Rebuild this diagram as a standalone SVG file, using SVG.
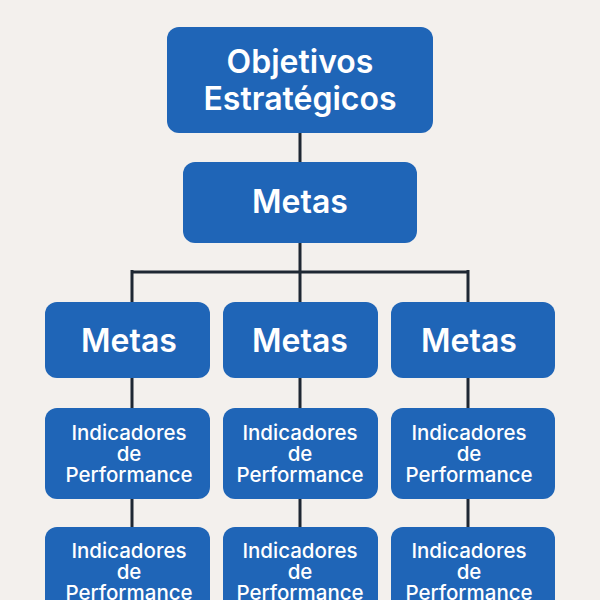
<svg xmlns="http://www.w3.org/2000/svg" width="600" height="600" viewBox="0 0 600 600">
<style>
.box{fill:#1f65b7;}
.t{fill:#ffffff;font-family:Inter,"Open Sans","Liberation Sans",sans-serif;font-weight:600;text-anchor:middle;}
.big{font-size:32px;}
.sm{font-size:20.5px;font-weight:500;}
.c{stroke:#1e2733;stroke-width:3;fill:none;}
</style>
<rect width="600" height="600" fill="#f3f0ed"/>
<g id="connectors">
<path class="c" d="M300 132V163M300 242V272M132 272H468M132 270V303M300 272V303M468 270V303M132 377V409M300 377V409M468 377V409M132 498V528M300 498V528M468 498V528"/>
</g>
<g id="n-objetivos"><rect class="box" x="167" y="27" width="266" height="106" rx="12"/><text class="t big" x="300" y="73">Objetivos</text><text class="t big" x="300" y="110">Estratégicos</text></g>
<g id="n-metas"><rect class="box" x="183" y="162" width="234" height="81" rx="12"/><text class="t big" x="300" y="213">Metas</text></g>
<g id="n-metas1"><rect class="box" x="45" y="302" width="165" height="76" rx="12"/><text class="t big" x="129" y="352">Metas</text></g>
<g id="n-metas2"><rect class="box" x="223" y="302" width="155" height="76" rx="12"/><text class="t big" x="300" y="352">Metas</text></g>
<g id="n-metas3"><rect class="box" x="391" y="302" width="164" height="76" rx="12"/><text class="t big" x="469" y="352">Metas</text></g>
<g id="n-ind1"><rect class="box" x="45" y="408" width="165" height="91" rx="12"/><text class="t sm" x="129" y="440">Indicadores</text><text class="t sm" x="129" y="461">de</text><text class="t sm" x="129" y="482">Performance</text></g>
<g id="n-ind2"><rect class="box" x="223" y="408" width="155" height="91" rx="12"/><text class="t sm" x="300" y="440">Indicadores</text><text class="t sm" x="300" y="461">de</text><text class="t sm" x="300" y="482">Performance</text></g>
<g id="n-ind3"><rect class="box" x="391" y="408" width="164" height="91" rx="12"/><text class="t sm" x="469" y="440">Indicadores</text><text class="t sm" x="469" y="461">de</text><text class="t sm" x="469" y="482">Performance</text></g>
<g id="n-ind4"><rect class="box" x="45" y="527" width="165" height="91" rx="12"/><text class="t sm" x="129" y="558">Indicadores</text><text class="t sm" x="129" y="579">de</text><text class="t sm" x="129" y="600">Performance</text></g>
<g id="n-ind5"><rect class="box" x="223" y="527" width="155" height="91" rx="12"/><text class="t sm" x="300" y="558">Indicadores</text><text class="t sm" x="300" y="579">de</text><text class="t sm" x="300" y="600">Performance</text></g>
<g id="n-ind6"><rect class="box" x="391" y="527" width="164" height="91" rx="12"/><text class="t sm" x="469" y="558">Indicadores</text><text class="t sm" x="469" y="579">de</text><text class="t sm" x="469" y="600">Performance</text></g>
</svg>
